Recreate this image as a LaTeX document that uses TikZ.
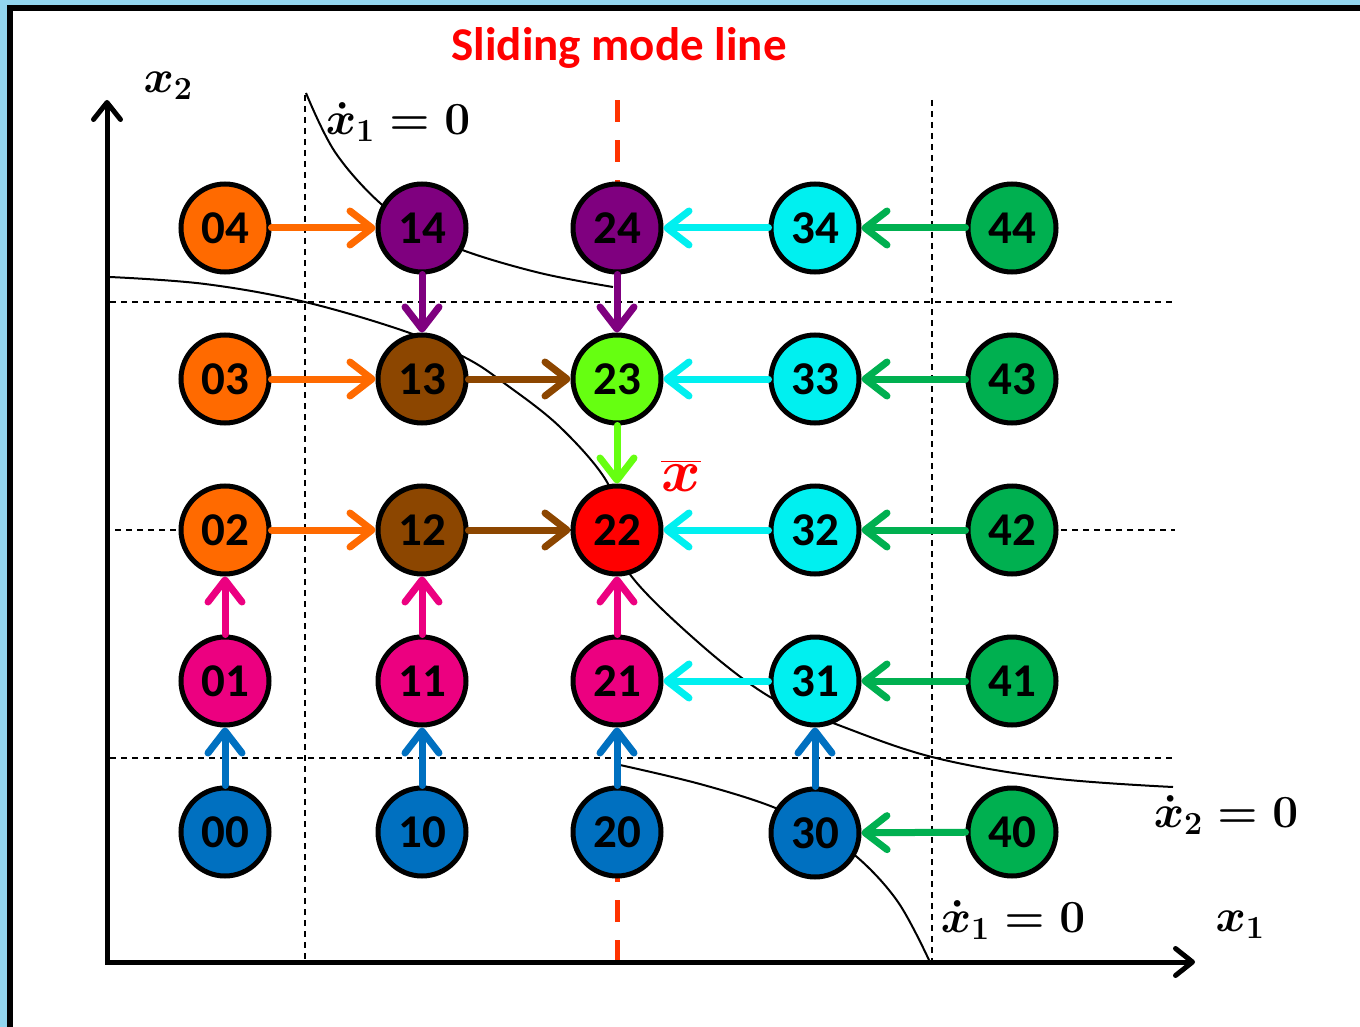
\RequirePackage{fix-cm}
\documentclass[tikz,border=0pt]{standalone}
\usepackage{amsmath}
\usepackage{fontspec}
\newfontfamily\lblfont{Carlito}
\usetikzlibrary{arrows.meta}

\definecolor{cOrange}{HTML}{FF6A00}
\definecolor{cPurple}{HTML}{7F007F}
\definecolor{cBrown}{HTML}{8C4600}
\definecolor{cLime}{HTML}{66FF11}
\definecolor{cRed}{HTML}{FF0000}
\definecolor{cCyan}{HTML}{00F0F0}
\definecolor{cGreen}{HTML}{00B050}
\definecolor{cPink}{HTML}{EC0080}
\definecolor{cBlue}{HTML}{0070C0}
\definecolor{cSlide}{HTML}{FF3300}
\definecolor{cFrame}{HTML}{92D5EE}

\begin{document}
\begin{tikzpicture}[x=1pt,y=-1pt,
  state/.style={circle, draw=black, line width=5pt, minimum size=88pt,
    inner sep=0pt, text=black, font=\lblfont\bfseries\fontsize{47}{50}\selectfont},
  flow/.style={line width=7pt, line cap=round,
    -{Straight Barb[length=22pt,width=34pt,round]}},
  gridline/.style={black, line width=1.5pt, dash pattern=on 6pt off 5pt},
  nullcline/.style={black, line width=2pt},
  axis/.style={black, line width=5pt, line join=miter,
    {Straight Barb[length=17pt,width=27pt,round]}-{Straight Barb[length=17pt,width=27pt,round]}},
  mathlbl/.style={inner sep=0pt, text=black, font=\boldmath\fontsize{46}{50}\selectfont},
  title/.style={inner sep=0pt, text=cRed, font=\lblfont\bfseries\fontsize{47}{52}\selectfont}]

\useasboundingbox (0,0) rectangle (1360,1027);

% frame
\fill[cFrame] (0,0) rectangle (1360,1027);
\fill[white] (9.5,8) rectangle (1360,1027);
\draw[black, line width=6pt] (9.5,1027) -- (9.5,8) -- (1360,8);

% dashed grid
\draw[gridline] (305,95) -- (305,962);
\draw[gridline] (932,100) -- (932,962);
\draw[gridline] (110,302) -- (1175,302);
\draw[gridline] (115,530) -- (1175,530);
\draw[gridline] (110,758) -- (1175,758);

% sliding mode line
\draw[cSlide, line width=5pt, dash pattern=on 22pt off 18pt] (617,962) -- (617,100);

% nullclines
\draw[nullcline] plot[smooth, tension=0.6] coordinates
  {(306,93) (335,152) (380,203) (422,230) (465,251) (540,273) (613,287)};
\draw[nullcline] plot[smooth, tension=0.6] coordinates
  {(110,277) (205,284) (305,302) (407,332) (466,358) (504,383) (560,427)
   (607,482) (618,528) (629,573) (699,643) (770,697) (833,723) (932,757)
   (1050,778) (1173,787)};
\draw[nullcline] plot[smooth, tension=0.6] coordinates
  {(620,765) (700,784) (773,807) (815,830) (857,857) (898,902) (929,960)};

% axes
\coordinate (ytip) at (107,100);
\coordinate (origin) at (107,962);
\coordinate (xtip) at (1195,962);
\draw[axis] (ytip) -- (origin) -- (xtip);

% states
\node[state, fill=cOrange] (n04) at (225,228) {04};
\node[state, fill=cPurple] (n14) at (422,228) {14};
\node[state, fill=cPurple] (n24) at (617,228) {24};
\node[state, fill=cCyan]   (n34) at (815,228) {34};
\node[state, fill=cGreen]  (n44) at (1012,228) {44};

\node[state, fill=cOrange] (n03) at (225,379) {03};
\node[state, fill=cBrown]  (n13) at (422,379) {13};
\node[state, fill=cLime]   (n23) at (617,379) {23};
\node[state, fill=cCyan]   (n33) at (815,379) {33};
\node[state, fill=cGreen]  (n43) at (1012,379) {43};

\node[state, fill=cOrange] (n02) at (225,530) {02};
\node[state, fill=cBrown]  (n12) at (422,530) {12};
\node[state, fill=cRed]    (n22) at (617,530) {22};
\node[state, fill=cCyan]   (n32) at (815,530) {32};
\node[state, fill=cGreen]  (n42) at (1012,530) {42};

\node[state, fill=cPink]   (n01) at (225,681) {01};
\node[state, fill=cPink]   (n11) at (422,681) {11};
\node[state, fill=cPink]   (n21) at (617,681) {21};
\node[state, fill=cCyan]   (n31) at (815,681) {31};
\node[state, fill=cGreen]  (n41) at (1012,681) {41};

\node[state, fill=cBlue]   (n00) at (225,832) {00};
\node[state, fill=cBlue]   (n10) at (422,832) {10};
\node[state, fill=cBlue]   (n20) at (617,832) {20};
\node[state, fill=cBlue]   (n30) at (815,833) {30};
\node[state, fill=cGreen]  (n40) at (1012,832) {40};

% transitions
\draw[flow, cOrange] (n04) -- (n14);
\draw[flow, cCyan]   (n34) -- (n24);
\draw[flow, cGreen]  (n44) -- (n34);
\draw[flow, cPurple] (n14) -- (n13);
\draw[flow, cPurple] (n24) -- (n23);

\draw[flow, cOrange] (n03) -- (n13);
\draw[flow, cBrown]  (n13) -- (n23);
\draw[flow, cCyan]   (n33) -- (n23);
\draw[flow, cGreen]  (n43) -- (n33);
\draw[flow, cLime]   (n23) -- (n22);

\draw[flow, cOrange] (n02) -- (n12);
\draw[flow, cBrown]  (n12) -- (n22);
\draw[flow, cCyan]   (n32) -- (n22);
\draw[flow, cGreen]  (n42) -- (n32);

\draw[flow, cPink]   (n01) -- (n02);
\draw[flow, cPink]   (n11) -- (n12);
\draw[flow, cPink]   (n21) -- (n22);
\draw[flow, cCyan]   (n31) -- (n21);
\draw[flow, cGreen]  (n41) -- (n31);

\draw[flow, cBlue]   (n00) -- (n01);
\draw[flow, cBlue]   (n10) -- (n11);
\draw[flow, cBlue]   (n20) -- (n21);
\draw[flow, cBlue]   (n30) -- (n31);
\draw[flow, cGreen]  (n40) -- (n30);

% labels
\node[title] (ttl) at (619,48) {Sliding mode line};
\node[mathlbl] (lx2) at (168,86) {$x_2$};
\node[mathlbl] (lx1) at (1240,925) {$x_1$};
\node[mathlbl] (ln1a) at (398,122) {$\dot{x}_1 = 0$};
\node[mathlbl] (ln1b) at (1013,920) {$\dot{x}_1 = 0$};
\node[mathlbl] (ln2) at (1226,815) {$\dot{x}_2 = 0$};
\node[mathlbl, text=cRed, font=\boldmath\fontsize{60}{64}\selectfont] (lxbar) at (681,476) {$\overline{x}$};
\end{tikzpicture}
\end{document}
